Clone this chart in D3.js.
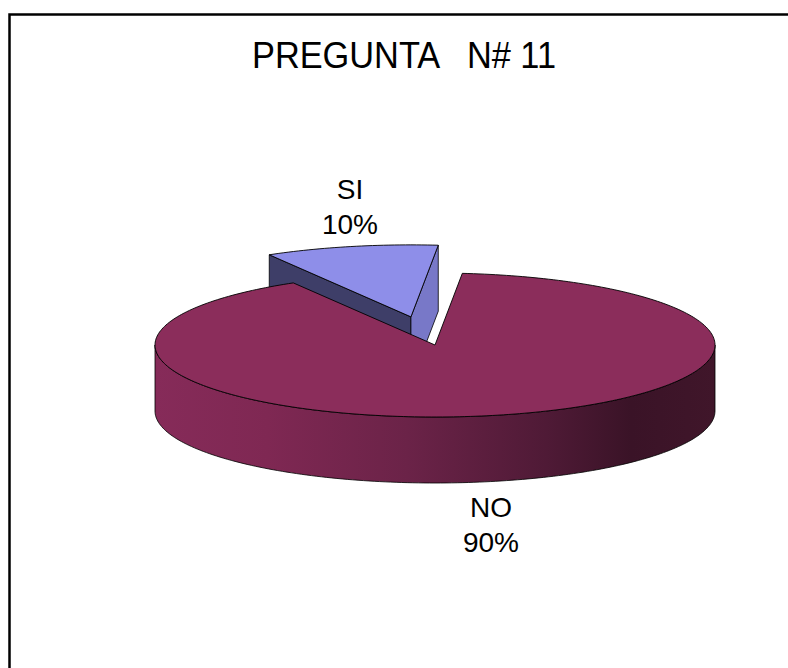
<!DOCTYPE html>
<html>
<head>
<meta charset="utf-8">
<script src="https://cdn.jsdelivr.net/npm/d3@7"></script>
<style>
  html, body { margin: 0; padding: 0; background: #fff; }
  svg { display: block; }
  text { font-family: "Liberation Sans", Arial, sans-serif; fill: #000; }
</style>
</head>
<body>
<svg id="chart" width="788" height="668"></svg>
<script>
// ---- data ----
const title = "PREGUNTA   N# 11";
const categories = ["SI", "NO"];
const values = [10, 90];
const percentLabels = ["10%", "90%"];
const topColors = ["#8e8ee9", "#8b2d5b"];
const exploded = [0.4, 0];

// ---- layout ----
const W = 788, H = 668;
const cx = 435, cy = 345, rx = 280, ry = 72, depth = 66;
const startDeg = -30.4;

const svg = d3.select("#chart");

// frame (continues past the right and bottom edges)
svg.append("rect")
  .attr("x", 9.5).attr("y", 14.5)
  .attr("width", 820).attr("height", 700)
  .attr("fill", "#fff").attr("stroke", "#000").attr("stroke-width", 2.5);

// title (condensed look)
svg.append("text")
  .attr("x", 252).attr("y", 68)
  .attr("font-size", 36)
  .attr("textLength", 304)
  .attr("lengthAdjust", "spacingAndGlyphs")
  .attr("xml:space", "preserve")
  .style("white-space", "pre")
  .text(title);

const pie = d3.pie().sort(null)
  .startAngle(startDeg * Math.PI / 180)
  .endAngle(startDeg * Math.PI / 180 + 2 * Math.PI);
const arcs = pie(values);

const color = d3.scaleOrdinal().domain(categories).range(topColors);

// gradient for side walls
const defs = svg.append("defs");
const gNo = defs.append("linearGradient").attr("id", "sideNO")
  .attr("gradientUnits", "userSpaceOnUse")
  .attr("x1", cx - rx).attr("x2", cx + rx).attr("y1", 0).attr("y2", 0);
[[0, "#862b59"], [0.2, "#7f2853"], [0.45, "#6b2348"], [0.7, "#4f1a36"],
 [0.85, "#3a1327"], [1, "#40162a"]].forEach(([o, c]) =>
  gNo.append("stop").attr("offset", o).attr("stop-color", c));

function pt(a, r, ox, oy, dz) {
  return [ox + Math.sin(a) * rx * r, oy - Math.cos(a) * ry * r + (dz || 0)];
}

function arcPoints(a0, a1, ox, oy, dz) {
  const n = Math.max(2, Math.ceil(Math.abs(a1 - a0) / 0.02));
  const pts = [];
  for (let i = 0; i <= n; i++) {
    const a = a0 + (a1 - a0) * i / n;
    pts.push(pt(a, 1, ox, oy, dz));
  }
  return pts;
}

const line = d3.line();

function drawSlice(d, i) {
  const e = exploded[i];
  const mid = (d.startAngle + d.endAngle) / 2;
  const ox = cx + Math.sin(mid) * rx * e;
  const oy = cy - Math.cos(mid) * ry * e;
  const g = svg.append("g");
  const a0 = d.startAngle, a1 = d.endAngle;

  // outer wall (front-facing part only: angles between 90deg and 270deg)
  const lo = Math.max(a0, Math.PI / 2), hi = Math.min(a1, 3 * Math.PI / 2);
  if (hi > lo) {
    const top = arcPoints(lo, hi, ox, oy, 0);
    const bot = arcPoints(hi, lo, ox, oy, depth);
    g.append("path")
      .attr("d", line(top.concat(bot)) + "Z")
      .attr("fill", i === 1 ? "url(#sideNO)" : d3.color(color(categories[i])).darker(1))
      .attr("stroke", "#000").attr("stroke-width", 0.8);
  }
  // radial faces (only for the exploded slice, both visible)
  if (e > 0) {
    const c0 = [ox, oy];
    const pl = pt(a0, 1, ox, oy), pr = pt(a1, 1, ox, oy);
    g.append("path")
      .attr("d", line([c0, pl, [pl[0], pl[1] + depth], [c0[0], c0[1] + depth]]) + "Z")
      .attr("fill", "#3e3e68").attr("stroke", "#000").attr("stroke-width", 0.8);
    g.append("path")
      .attr("d", line([c0, pr, [pr[0], pr[1] + depth], [c0[0], c0[1] + depth]]) + "Z")
      .attr("fill", "#7878c8").attr("stroke", "#000").attr("stroke-width", 0.8);
  }
  // top face
  const topPts = [[ox, oy]].concat(arcPoints(a0, a1, ox, oy, 0));
  g.append("path")
    .attr("d", line(topPts) + "Z")
    .attr("fill", color(categories[i]))
    .attr("stroke", "#000").attr("stroke-width", 0.9);
}

// draw back (exploded SI) first, then NO
arcs.forEach((d, i) => drawSlice(d, i));

// labels
const labelPos = [[350, 199], [491, 517]];
arcs.forEach((d, i) => {
  const t = svg.append("text")
    .attr("x", labelPos[i][0]).attr("y", labelPos[i][1])
    .attr("text-anchor", "middle").attr("font-size", 28);
  t.append("tspan").attr("x", labelPos[i][0]).text(categories[i]);
  t.append("tspan").attr("x", labelPos[i][0]).attr("dy", 35).text(percentLabels[i]);
});
</script>
</body>
</html>
